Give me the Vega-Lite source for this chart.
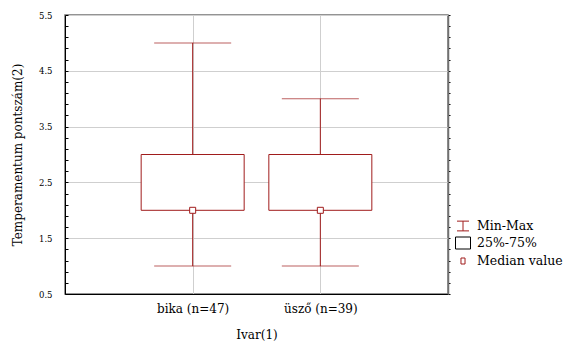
{
  "$schema": "https://vega.github.io/schema/vega-lite/v6.json",
  "width": 383,
  "height": 279,
  "autosize": {"type": "none"},
  "padding": {"left": 65, "top": 15, "right": 133, "bottom": 55},
  "background": "white",
  "config": {
    "view": {"stroke": "#707070", "strokeWidth": 1.5}
  },
  "datasets": {
    "stats": [
      {"ivar": "bika (n=47)", "min": 1, "q1": 2, "median": 2, "q3": 3, "max": 5},
      {"ivar": "üsző (n=39)", "min": 1, "q1": 2, "median": 2, "q3": 3, "max": 4}
    ],
    "legendItems": [
      {"item": "Min-Max"},
      {"item": "25%-75%"},
      {"item": "Median value"}
    ]
  },
  "resolve": {"axis": {"y": "independent"}},
  "layer": [
    {
      "data": {"name": "stats"},
      "mark": {"type": "rule", "color": "#a01c1c", "strokeWidth": 1},
      "encoding": {
        "x": {"field": "ivar", "type": "nominal", "sort": null,
          "scale": {"type": "point", "padding": 1},
          "axis": {"title": "Ivar(1)", "titleFont": "DejaVu Serif", "titleFontWeight": 400, "titleColor": "#000", "titleFontSize": 12, "titlePadding": 15,
            "labelFont": "DejaVu Serif", "labelFontWeight": 400, "labelColor": "#000", "labelFontSize": 12, "labelAngle": 0, "labelPadding": 9, "ticks": false, "domainColor": "#000", "domainWidth": 1, "grid": true, "gridColor": "#cfcfcf", "gridWidth": 1}},
        "y": {"field": "min", "type": "quantitative",
          "scale": {"domain": [0.5, 5.5], "nice": false, "zero": false},
          "axis": {"title": "Temperamentum pontszám(2)", "titleFont": "DejaVu Serif", "titleFontWeight": 400, "titleColor": "#000", "titleFontSize": 12, "titlePadding": 14,
            "labelFont": "DejaVu Serif", "labelColor": "#000", "labelFontSize": 8.5, "format": ".1f",
            "values": [0.5,0.7,0.9,1.1,1.3,1.5,1.7,1.9,2.1,2.3,2.5,2.7,2.9,3.1,3.3,3.5,3.7,3.9,4.1,4.3,4.5,4.7,4.9,5.1,5.3,5.5],
            "labelExpr": "round(datum.value*10) % 10 == 5 ? datum.label : ''",
            "tickSize": -3, "tickColor": "#000", "labelPadding": 16,
            "domainColor": "#000", "domainWidth": 1,
            "grid": true, "gridColor": "#cfcfcf", "gridWidth": 1,
            "gridOpacity": {"condition": {"test": "round(datum.value*10) % 10 == 5", "value": 1}, "value": 0}}},
        "y2": {"field": "max"}
      }
    },
    {
      "data": {"name": "stats"},
      "mark": {"type": "tick", "color": "#a01c1c", "thickness": 1, "size": 77, "orient": "horizontal"},
      "encoding": {
        "x": {"field": "ivar", "type": "nominal", "sort": null},
        "y": {"field": "min", "type": "quantitative",
          "axis": {"orient": "right", "title": null, "labels": false, "grid": false,
            "values": [0.5,0.7,0.9,1.1,1.3,1.5,1.7,1.9,2.1,2.3,2.5,2.7,2.9,3.1,3.3,3.5,3.7,3.9,4.1,4.3,4.5,4.7,4.9,5.1,5.3,5.5],
            "tickSize": 2, "tickColor": "#000", "domainColor": "#707070", "domainWidth": 1.5}}
      }
    },
    {
      "data": {"name": "stats"},
      "mark": {"type": "tick", "color": "#a01c1c", "thickness": 1, "size": 77, "orient": "horizontal"},
      "encoding": {
        "x": {"field": "ivar", "type": "nominal", "sort": null},
        "y": {"field": "max", "type": "quantitative", "axis": null}
      }
    },
    {
      "data": {"name": "stats"},
      "mark": {"type": "bar", "width": 103, "fill": "white", "stroke": "#a01c1c", "strokeWidth": 1},
      "encoding": {
        "x": {"field": "ivar", "type": "nominal", "sort": null},
        "y": {"field": "q1", "type": "quantitative", "axis": null},
        "y2": {"field": "q3"}
      }
    },
    {
      "data": {"name": "stats"},
      "mark": {"type": "point", "shape": "square", "size": 36, "filled": true, "fill": "white", "stroke": "#a01c1c", "strokeWidth": 1, "opacity": 1},
      "encoding": {
        "x": {"field": "ivar", "type": "nominal", "sort": null},
        "y": {"field": "median", "type": "quantitative", "axis": null}
      }
    },
    {
      "data": {"name": "legendItems"},
      "mark": {"type": "point", "filled": false, "opacity": 0, "strokeWidth": 1},
      "encoding": {
        "shape": {"field": "item", "type": "nominal",
          "scale": {"domain": ["Min-Max", "25%-75%", "Median value"],
            "range": ["M-0.8,-0.65H0.8M0,-0.65V0.65M-0.8,0.65H0.8", "M-1,-0.8H1V0.8H-1Z", "M-0.27,-0.4H0.27V0.4H-0.27Z"]},
          "legend": {"title": null, "orient": "none", "legendX": 390, "legendY": 203, "symbolSize": 225, "symbolOpacity": 1, "symbolStrokeWidth": 1, "symbolFillColor": "transparent", "labelFontSize": 12.5, "labelColor": "#000", "labelFont": "DejaVu Serif", "rowPadding": 2, "labelOffset": 6}},
        "stroke": {"field": "item", "type": "nominal",
          "scale": {"domain": ["Min-Max", "25%-75%", "Median value"], "range": ["#a01c1c", "#000000", "#a01c1c"]},
          "legend": {"title": null, "orient": "none", "legendX": 390, "legendY": 203, "labelFont": "DejaVu Serif", "labelFontSize": 12.5}}
      }
    }
  ]
}
